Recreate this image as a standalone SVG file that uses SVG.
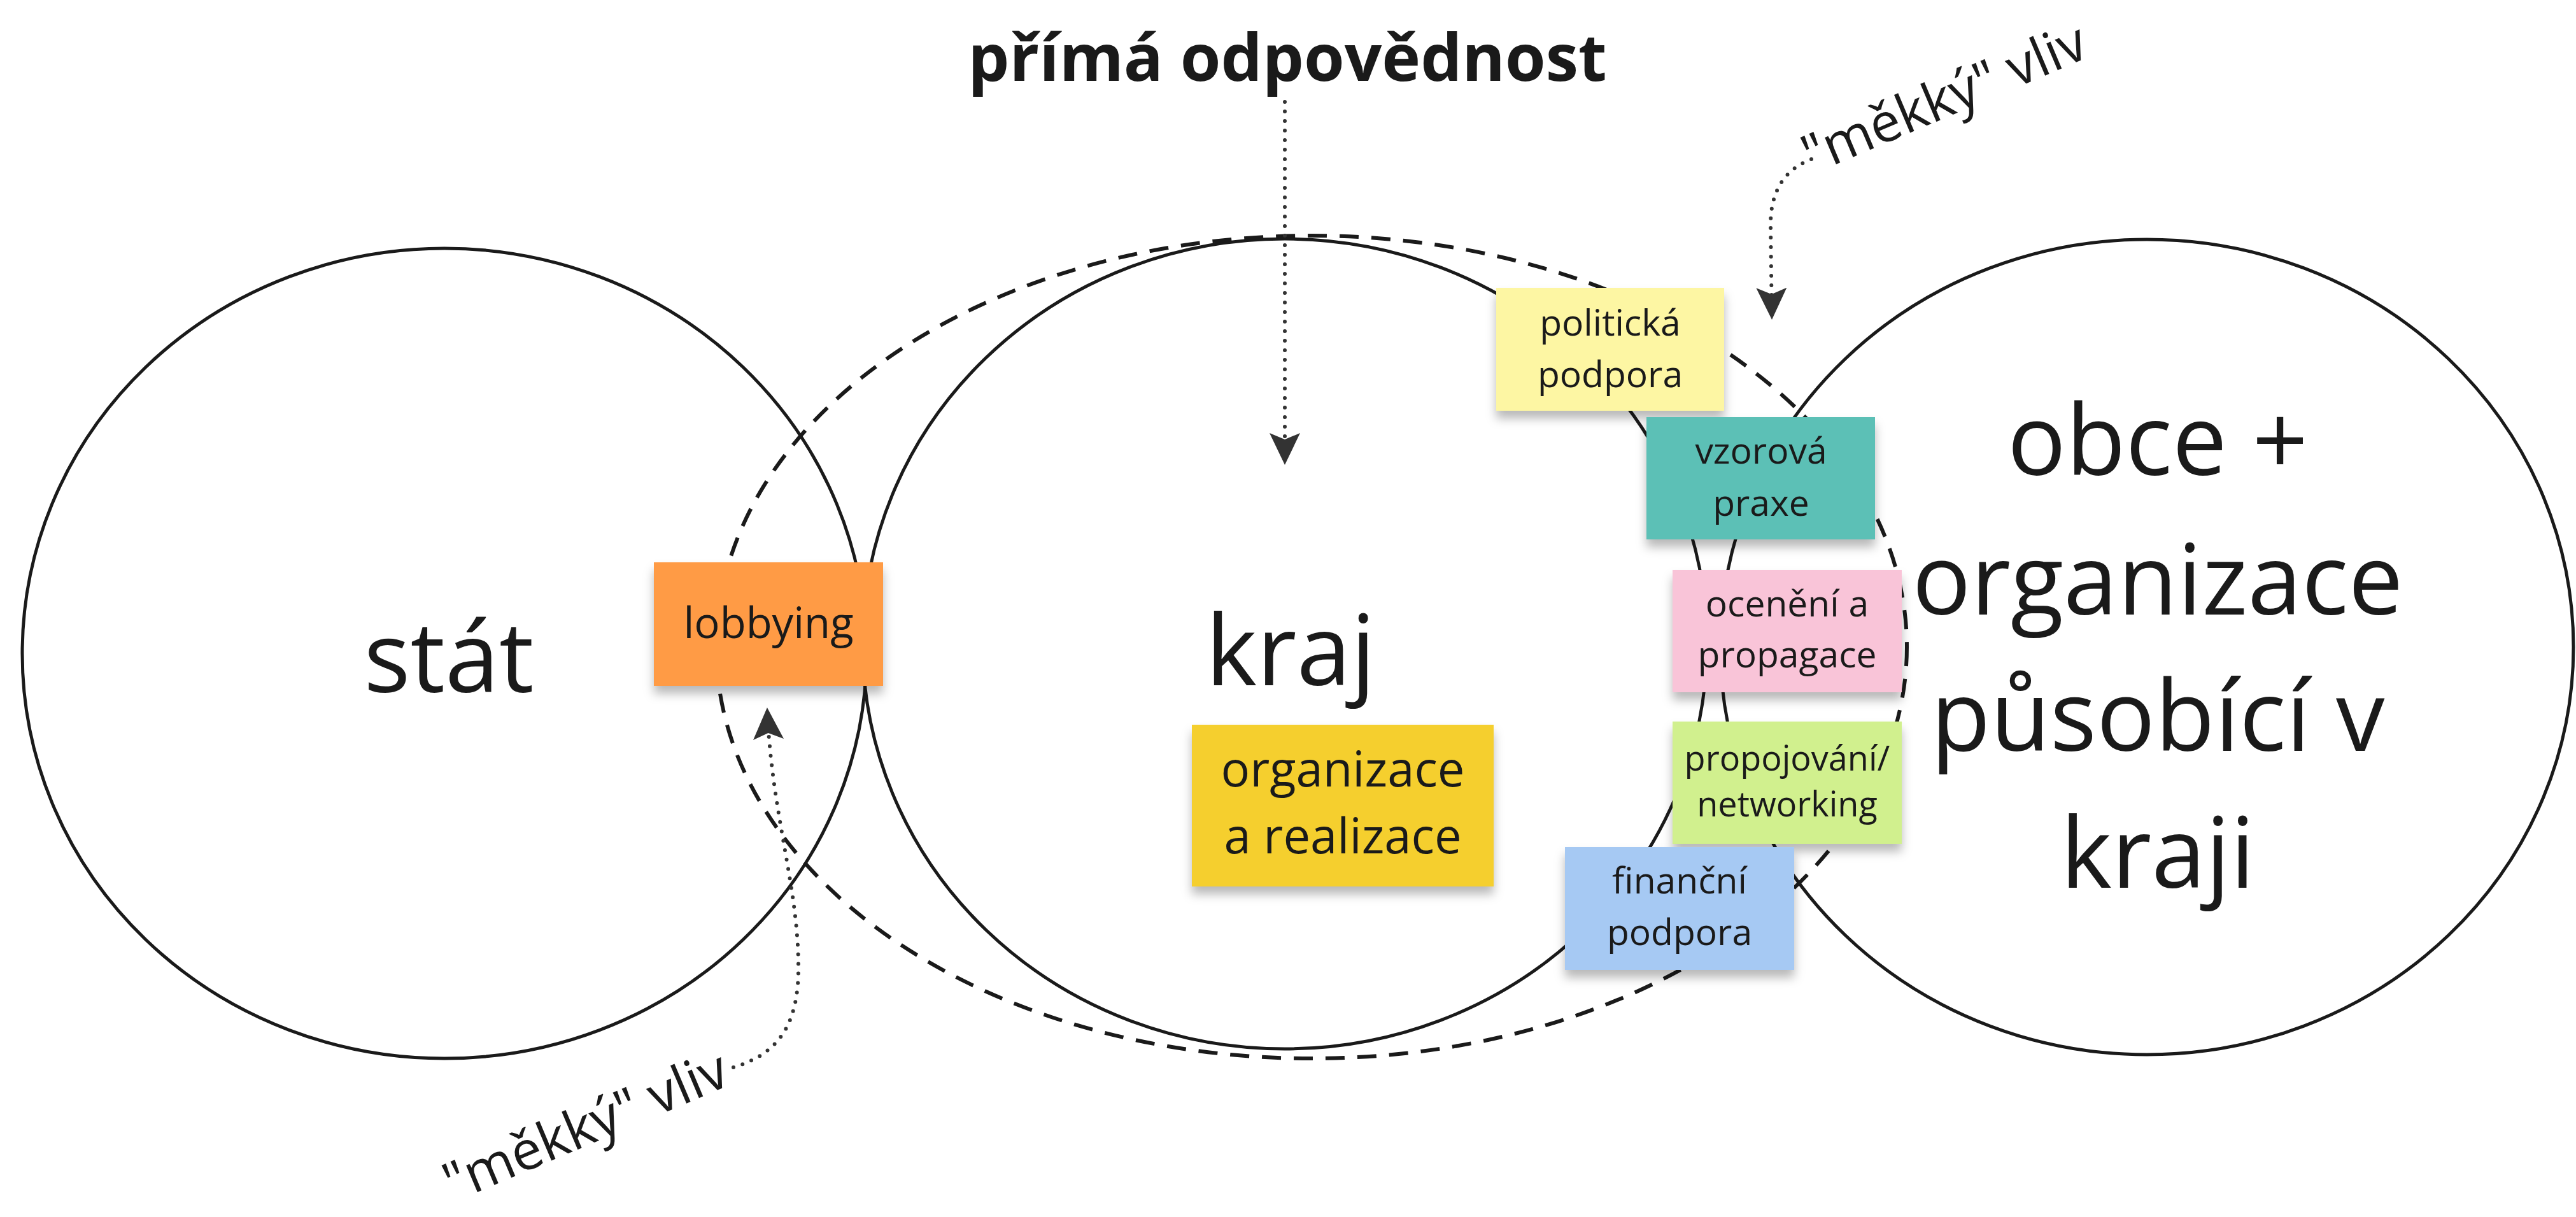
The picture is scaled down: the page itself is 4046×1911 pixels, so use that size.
<svg xmlns="http://www.w3.org/2000/svg" width="4046" height="1911" viewBox="0 0 4046 1911">
<style>
.ring{fill:none;stroke:#1a1a1a;stroke-width:5}
.dash{fill:none;stroke:#1a1a1a;stroke-width:6;stroke-dasharray:30 20}
.dot{fill:none;stroke:#333;stroke-width:6;stroke-linecap:round;stroke-dasharray:0 15}
.big{font-family:"Open Sans","Liberation Sans",sans-serif;font-size:153px;fill:#1a1a1a;text-anchor:middle}
.st{font-family:"Open Sans","Liberation Sans",sans-serif;font-size:57px;fill:#1a1a1a;text-anchor:middle}
.st66{font-size:67px}
.st76{font-size:76px}
.st54{font-size:54px}
.lbl{font-family:"Open Sans","Liberation Sans",sans-serif;font-size:85px;fill:#1a1a1a}
.title{font-family:"Open Sans","Liberation Sans",sans-serif;font-size:103px;font-weight:bold;fill:#1a1a1a;text-anchor:middle}
.note{filter:url(#sh)}
</style>
<defs>
<filter id="sh" x="-10%" y="-10%" width="120%" height="140%">
<feDropShadow dx="0" dy="12" stdDeviation="8" flood-color="#000" flood-opacity="0.28"/>
</filter>
<marker id="ah" markerUnits="userSpaceOnUse" viewBox="0 0 50 52" markerWidth="50" markerHeight="52" refX="48" refY="26" orient="auto">
<path d="M0,2 L50,26 L0,50 L10,26 z" fill="#333"/>
</marker>
</defs>
<rect width="4046" height="1911" fill="#fff"/>

<g id="circle-stat">
<ellipse class="ring" cx="698" cy="1026" rx="663" ry="636"/>
<text class="big" x="705" y="1087">stát</text>
</g>
<g id="circle-kraj">
<ellipse class="ring" cx="2018" cy="1011" rx="663" ry="636"/>
<text class="big" x="2027" y="1076">kraj</text>
</g>
<g id="circle-obce">
<ellipse class="ring" cx="3372" cy="1016" rx="670" ry="640"/>
<text class="big" x="3389" y="746">obce +</text>
<text class="big" x="3389" y="965">organizace</text>
<text class="big" x="3389" y="1179">působící v</text>
<text class="big" x="3389" y="1394">kraji</text>
</g>
<g id="zone-dashed">
<ellipse class="dash" cx="2060" cy="1016" rx="935" ry="646"/>
</g>

<g id="title">
<text class="title" x="2022" y="127">přímá odpovědnost</text>
</g>
<g id="label-soft-top">
<text class="lbl" transform="translate(2846 274) rotate(-23)">"měkký" vliv</text>
</g>
<g id="label-soft-bottom">
<text class="lbl" transform="translate(712 1888) rotate(-23)">"měkký" vliv</text>
</g>

<g id="connectors">
<path class="dot" d="M2845 250 C2805 265 2781 298 2781 352 L2783 500" marker-end="url(#ah)"/>
<path class="dot" d="M2018 160 L2018 728" marker-end="url(#ah)"/>
<path class="dot" d="M1152 1676 C1222 1655 1254 1610 1254 1520 C1254 1390 1212 1280 1205 1113" marker-end="url(#ah)"/>
</g>

<g id="note-lobbying">
<rect class="note" x="1027" y="883" width="360" height="194" fill="#FF9B45"/>
<text class="st st66" x="1207" y="1002">lobbying</text>
</g>
<g id="note-organizace">
<rect class="note" x="1872" y="1138" width="474" height="254" fill="#F5CF2E"/>
<text class="st st76" x="2109" y="1235">organizace</text>
<text class="st st76" x="2109" y="1340">a realizace</text>
</g>
<g id="note-politicka">
<rect class="note" x="2350" y="452" width="358" height="193" fill="#FDF6A3"/>
<text class="st" x="2529" y="527">politická</text>
<text class="st" x="2529" y="608">podpora</text>
</g>
<g id="note-vzorova">
<rect class="note" x="2586" y="655" width="359" height="192" fill="#5CC0B6"/>
<text class="st" x="2766" y="728">vzorová</text>
<text class="st" x="2766" y="810">praxe</text>
</g>
<g id="note-oceneni">
<rect class="note" x="2627" y="895" width="360" height="192" fill="#F9C4D8"/>
<text class="st" x="2807" y="968">ocenění a</text>
<text class="st" x="2807" y="1048">propagace</text>
</g>
<g id="note-propojovani">
<rect class="note" x="2627" y="1133" width="360" height="192" fill="#D1F08E"/>
<text class="st st54" x="2807" y="1210">propojování/</text>
<text class="st st54" x="2807" y="1282">networking</text>
</g>
<g id="note-financni">
<rect class="note" x="2458" y="1330" width="360" height="193" fill="#A6C9F3"/>
<text class="st" x="2638" y="1403">finanční</text>
<text class="st" x="2638" y="1484">podpora</text>
</g>
</svg>
